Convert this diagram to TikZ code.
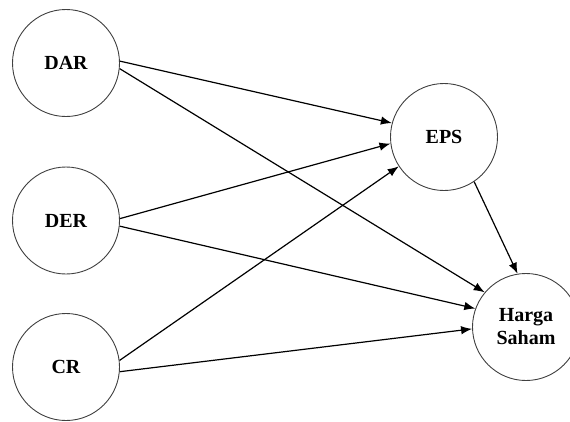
\documentclass[tikz,border=0pt]{standalone}
\usepackage{fontspec}
\setmainfont{Liberation Serif}
\usetikzlibrary{arrows.meta}
\begin{document}
\begin{tikzpicture}[x=1pt,y=-1pt,
  var/.style={circle, draw=black!75, line width=0.9pt, minimum size=107pt, inner sep=0pt,
    font=\fontsize{20}{23}\selectfont\bfseries, align=center},
  arr/.style={-{Latex[length=11pt,width=8.5pt]}, line width=1.2pt}]
\clip (0,0) rectangle (570,421);
\fill[white] (0,0) rectangle (570,421);
\node[var] (dar) at (66,63) {DAR};
\node[var] (der) at (66,220.5) {DER};
\node[var] (cr) at (66,367) {CR};
\node[var] (eps) at (444,137) {EPS};
\node[var] (hs) at (526,327) {Harga\\Saham};
\draw[arr] (dar.2) -- (eps.165);
\draw[arr] (dar.-6) -- (hs.140);
\draw[arr] (der.2) -- (eps.-173);
\draw[arr] (der.-6) -- (hs.160);
\draw[arr] (cr.7) -- (eps.-147);
\draw[arr] (cr.-5) -- (hs.182);
\draw[arr] (eps.-56) -- (hs.99);
\end{tikzpicture}
\end{document}
